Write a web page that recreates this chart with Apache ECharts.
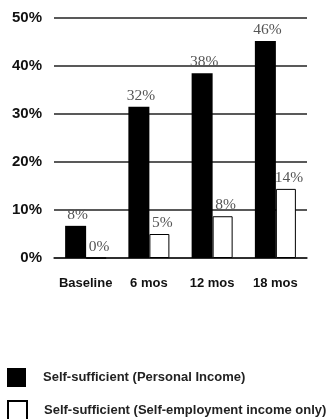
<!DOCTYPE html>
<html>
<head>
<meta charset="utf-8">
<script src="https://cdn.jsdelivr.net/npm/echarts@6/dist/echarts.min.js"></script>
<style>
  html, body { margin: 0; padding: 0; background: #fff; }
  #chart { width: 332px; height: 419px; }
</style>
</head>
<body>
<div id="chart"></div>
<script>
// categories and values
var categories = ["Baseline", "6 mos", "12 mos", "18 mos"];
var personalIncome = [6.7, 31.5, 38.5, 45.2];
var selfEmployment = [0, 5, 8.7, 14.4];
// printed labels above the bars
var personalLabels = ["8%", "32%", "38%", "46%"];
var selfEmpLabels = ["0%", "5%", "8%", "14%"];
var seriesNames = [
  "Self-sufficient (Personal Income)",
  "Self-sufficient (Self-employment income only)"
];
var yTicks = [0, 10, 20, 30, 40, 50];

var chart = echarts.init(document.getElementById("chart"));

//柱顶标签
function barLabel(texts, dx) {
  return {
    show: true,
    position: "top",
    distance: 3,
    offset: [dx, 0],
    fontFamily: "Liberation Serif",
    fontSize: 15.5,
    color: "#555",
    formatter: function (p) { return texts[p.dataIndex]; }
  };
}

//图例 (one component per row)
function legendRow(name, top) {
  return {
    orient: "vertical",
    left: 7,
    top: top,
    padding: 0,
    icon: "rect",
    itemWidth: 19,
    itemHeight: 19,
    selectedMode: false,
    textStyle: {
      fontFamily: "Liberation Sans",
      fontWeight: "bold",
      fontSize: 13,
      color: "#222",
      padding: [0, 0, 0, 12]
    },
    data: [name]
  };
}

var option = {
  animation: false,
  backgroundColor: "#fff",
  grid: { left: 54, right: 25, top: 18, bottom: 161 },
  xAxis: {
    type: "category",
    data: categories,
    axisLine: { show: true, lineStyle: { color: "#222", width: 1.5 } },
    axisTick: { show: false },
    axisLabel: {
      interval: 0,
      margin: 19,
      fontFamily: "Liberation Sans",
      fontWeight: "bold",
      fontSize: 13,
      color: "#111"
    }
  },
  yAxis: {
    type: "value",
    min: yTicks[0],
    max: yTicks[yTicks.length - 1],
    interval: 10,
    axisLine: { show: false },
    axisTick: { show: false },
    splitLine: { lineStyle: { color: "#222", width: 1.5 } },
    axisLabel: {
      margin: 12,
      fontFamily: "Liberation Sans",
      fontWeight: "bold",
      fontSize: 15,
      color: "#111",
      formatter: "{value}%"
    }
  },
  legend: [legendRow(seriesNames[0], 368), legendRow(seriesNames[1], 400)],
  series: [
    {
      name: seriesNames[0],
      type: "bar",
      data: personalIncome,
      barWidth: 21,
      barGap: "0%",
      itemStyle: { color: "#000" },
      label: barLabel(personalLabels, 2)
    },
    {
      name: seriesNames[1],
      type: "bar",
      data: selfEmployment,
      barWidth: 20,
      itemStyle: { color: "#fff", borderColor: "#000", borderWidth: 1 },
      label: barLabel(selfEmpLabels, 3)
    }
  ]
};

chart.setOption(option);
</script>
</body>
</html>
